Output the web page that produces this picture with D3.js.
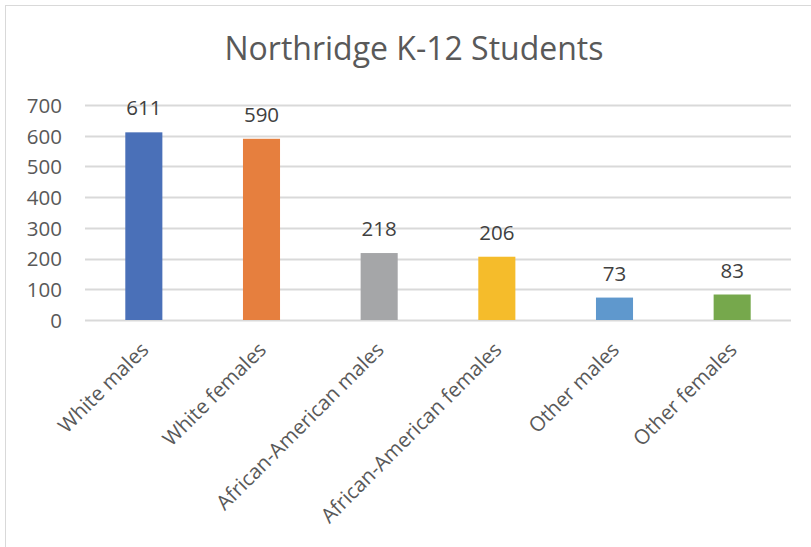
<!DOCTYPE html>
<html>
<head>
<meta charset="utf-8">
<script src="https://cdn.jsdelivr.net/npm/d3@7"></script>
<style>
  body { margin: 0; background: #fff; }
  text { font-family: "Open Sans", "Liberation Sans", sans-serif; }
</style>
</head>
<body>
<div id="chart"></div>
<script>
var categories = ["White males", "White females", "African-American males",
    "African-American females", "Other males", "Other females"];
var values = [611, 590, 218, 206, 73, 83];
var barColors = ["#4a70b8", "#e67f3e", "#a5a6a8", "#f5bc2b", "#5f98cd", "#76a84c"];
var yTicks = [0, 100, 200, 300, 400, 500, 600, 700];
var chartTitle = "Northridge K-12 Students";

var width = 811, height = 547;
var margin = {top: 105, right: 20, bottom: 227, left: 85};

var svg = d3.select("#chart").append("svg")
    .attr("width", width)
    .attr("height", height);

// chart area frame
svg.append("rect")
    .attr("x", 5.5).attr("y", 5.5)
    .attr("width", width + 20).attr("height", height + 20)
    .attr("fill", "#fff")
    .attr("stroke", "#d9d9d9");

var x = d3.scaleBand()
    .domain(categories)
    .range([margin.left, width - margin.right])
    .paddingInner(0.685)
    .paddingOuter(0.3425);

var y = d3.scaleLinear()
    .domain([0, 700])
    .range([height - margin.bottom, margin.top]);

svg.append("text")
    .attr("x", 414)
    .attr("y", 60)
    .attr("text-anchor", "middle")
    .style("font-size", "32px")
    .style("fill", "#595959")
    .text(chartTitle);

// gridlines
svg.append("g")
    .selectAll("line")
    .data(yTicks)
    .enter().append("line")
    .attr("x1", margin.left)
    .attr("x2", width - margin.right)
    .attr("y1", function (d) { return Math.round(y(d)) + 0.5; })
    .attr("y2", function (d) { return Math.round(y(d)) + 0.5; })
    .attr("stroke", "#d9d9d9")
    .attr("stroke-width", 2);

var yAxis = svg.append("g")
    .attr("transform", "translate(" + (margin.left - 23) + ",0)")
    .call(d3.axisLeft(y).tickValues(yTicks).tickSize(0).tickPadding(0));
yAxis.select(".domain").remove();
yAxis.selectAll("text")
    .style("font-size", "20.5px")
    .style("fill", "#595959")
    .attr("dy", "0.36em");

svg.append("g")
    .selectAll("rect")
    .data(values)
    .enter().append("rect")
    .attr("x", function (d, i) { return x(categories[i]); })
    .attr("y", function (d) { return y(d); })
    .attr("width", x.bandwidth())
    .attr("height", function (d) { return y(0) - y(d); })
    .attr("fill", function (d, i) { return barColors[i]; });

svg.append("g")
    .selectAll("text")
    .data(values)
    .enter().append("text")
    .attr("x", function (d, i) { return x(categories[i]) + x.bandwidth() / 2; })
    .attr("y", function (d) { return y(d) - 17; })
    .attr("text-anchor", "middle")
    .style("font-size", "20.5px")
    .style("fill", "#404040")
    .text(function (d) { return d; });

var xAxis = svg.append("g")
    .attr("transform", "translate(0," + y(0) + ")")
    .call(d3.axisBottom(x).tickSize(0).tickPadding(0));
xAxis.select(".domain").remove();
xAxis.selectAll("text")
    .attr("text-anchor", "end")
    .attr("dy", null)
    .attr("transform", "translate(6,31) rotate(-45)")
    .style("font-size", "20.5px")
    .style("fill", "#595959");
</script>
</body>
</html>
